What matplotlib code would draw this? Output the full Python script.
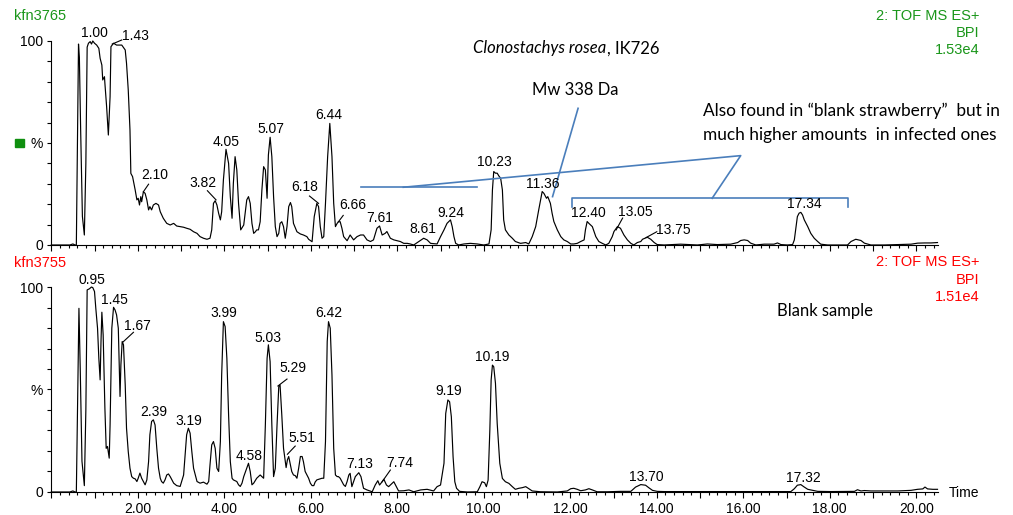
import matplotlib
matplotlib.use("Agg")
import matplotlib.pyplot as plt
from matplotlib.ticker import MultipleLocator, FixedLocator, FuncFormatter
from matplotlib.patches import Rectangle

plt.rcParams['font.family'] = ['Liberation Sans', 'DejaVu Sans']

GREEN = '#1a961a'
RED = '#ff0000'
BLUE = '#4a7ebb'
NOTE_FONT = ['Lato', 'DejaVu Sans']

# chromatogram kfn3765 (Clonostachys rosea), time in min, intensity in %
top_trace = [
    (0.0, 0), (0.43, 0), (0.50, 0.5), (0.55, 0), (0.58, 0), (0.63, 98.5), (0.65, 92), (0.68, 56),
    (0.72, 14), (0.765, 4.9), (0.80, 40), (0.82, 80), (0.83, 97), (0.86, 98.9), (0.90, 99.7),
    (0.93, 98.5), (0.96, 100), (1.00, 98.9), (1.05, 98), (1.10, 96.4), (1.13, 91.5), (1.17, 88.2),
    (1.19, 80.9), (1.23, 82.5), (1.24, 79.3), (1.28, 67.8), (1.32, 53.9), (1.36, 72.7), (1.38, 97.2),
    (1.44, 98.9), (1.51, 98), (1.63, 98), (1.71, 95.6), (1.74, 89.1), (1.78, 76.0), (1.82, 56.4),
    (1.84, 35.1), (1.88, 33.5), (1.94, 27.0), (1.98, 22.1), (2.01, 22.9), (2.04, 19.6), (2.07, 23.7),
    (2.09, 21.2), (2.13, 26.1), (2.17, 25.3), (2.21, 22.1), (2.25, 17.2), (2.28, 18.8), (2.32, 17.2),
    (2.36, 19.6), (2.42, 20.4), (2.48, 19.6), (2.52, 16.3), (2.59, 13.1), (2.67, 10.6), (2.75, 9.8),
    (2.83, 10.6), (2.90, 9.3), (2.98, 9.0), (3.06, 8.7), (3.13, 8.2), (3.21, 7.7), (3.29, 6.5),
    (3.37, 5.7), (3.44, 4.1), (3.52, 3.3), (3.60, 2.8), (3.67, 3.3), (3.71, 7.4), (3.75, 20.4),
    (3.79, 21.7), (3.83, 19.6), (3.87, 15.5), (3.91, 12.3), (3.94, 16.3), (3.98, 31.9), (4.04, 46.9),
    (4.10, 40.0), (4.14, 23.7), (4.18, 13.1), (4.21, 30.2), (4.25, 43.3), (4.29, 36.8), (4.33, 20.4),
    (4.38, 7.4), (4.45, 9.8), (4.52, 22.1), (4.56, 23.7), (4.60, 20.4), (4.64, 10.6), (4.68, 5.7),
    (4.72, 6.5), (4.75, 7.4), (4.79, 7.4), (4.83, 11.4), (4.87, 27.0), (4.91, 38.4), (4.95, 36.8),
    (4.99, 22.9), (5.02, 44.1), (5.06, 52.8), (5.10, 43.3), (5.14, 23.7), (5.18, 9.0), (5.22, 4.1),
    (5.26, 5.7), (5.29, 10.6), (5.33, 11.4), (5.37, 9.0), (5.41, 3.3), (5.45, 9.0), (5.49, 18.8),
    (5.53, 20.8), (5.56, 18.8), (5.60, 10.6), (5.68, 6.5), (5.76, 5.4), (5.83, 4.9), (5.91, 4.1),
    (5.95, 2.8), (6.03, 1.6), (6.08, 13.9), (6.14, 20.4), (6.18, 18.8), (6.22, 9.0), (6.26, 3.3),
    (6.30, 4.1), (6.34, 20.4), (6.39, 43.3), (6.44, 59.6), (6.49, 43.3), (6.53, 20.4), (6.57, 9.0),
    (6.61, 10.6), (6.64, 11.4), (6.68, 11.4), (6.72, 8.2), (6.76, 4.1), (6.84, 2.1), (6.91, 4.9),
    (6.99, 2.5), (7.07, 4.1), (7.15, 4.9), (7.22, 4.9), (7.30, 2.5), (7.38, 1.7), (7.45, 2.5),
    (7.53, 8.2), (7.59, 9.3), (7.65, 4.9), (7.72, 5.7), (7.76, 6.6), (7.84, 3.3), (7.92, 2.5),
    (8.00, 2.1), (8.07, 1.7), (8.15, 0.8), (8.23, 0.8), (8.30, 0.5), (8.38, 0), (8.50, 1.7),
    (8.61, 3.3), (8.69, 2.5), (8.77, 0.8), (8.92, 0.5), (9.00, 4.1), (9.08, 7.4), (9.15, 10.6),
    (9.23, 12.3), (9.27, 9.0), (9.31, 4.1), (9.35, 0.8), (9.42, 0), (9.54, 0.5), (9.69, 0.8),
    (9.85, 0.5), (10.00, 0), (10.12, 0.5), (10.17, 7.4), (10.20, 27.0), (10.23, 36.0), (10.27, 35.2),
    (10.31, 35.2), (10.35, 33.8), (10.39, 32.7), (10.43, 27.0), (10.46, 12.3), (10.50, 7.4),
    (10.58, 4.9), (10.66, 3.3), (10.73, 1.7), (10.85, 0.8), (10.97, 1.2), (11.04, 0.5), (11.12, 4.1),
    (11.20, 9.0), (11.27, 17.2), (11.35, 26.2), (11.39, 25.3), (11.43, 23.7), (11.45, 22.9),
    (11.48, 23.7), (11.51, 22.1), (11.54, 20.4), (11.58, 15.5), (11.62, 11.5), (11.70, 7.4),
    (11.78, 4.1), (11.85, 2.5), (11.93, 1.7), (12.01, 0.5), (12.08, 0.5), (12.16, 0.8), (12.24, 1.7),
    (12.32, 2.5), (12.35, 7.4), (12.39, 11.5), (12.43, 10.6), (12.51, 9.0), (12.59, 4.1),
    (12.66, 1.7), (12.74, 0.8), (12.82, 0), (12.89, 0.8), (12.97, 4.1), (13.01, 6.6), (13.09, 9.0),
    (13.16, 8.2), (13.24, 4.9), (13.32, 2.5), (13.40, 0.8), (13.47, 0), (13.55, 1.2), (13.63, 1.7),
    (13.67, 2.8), (13.78, 3.8), (13.86, 2.8), (13.94, 1.2), (14.01, 0.2), (14.17, 0), (14.55, 0.4),
    (14.94, 0), (15.17, 0.5), (15.40, 0.2), (15.71, 0.4), (15.87, 1.2), (15.94, 2.2), (16.02, 2.5),
    (16.10, 2.2), (16.17, 0.9), (16.29, 0), (16.48, 0.4), (16.71, 0.4), (16.79, 1.0), (16.87, 0.2),
    (17.02, 0), (17.14, 0.2), (17.18, 2.5), (17.22, 9.0), (17.25, 13.9), (17.29, 15.6), (17.33, 16.0),
    (17.37, 14.7), (17.41, 12.3), (17.49, 9.0), (17.56, 5.7), (17.64, 3.3), (17.72, 1.7),
    (17.79, 0.4), (17.95, 0), (18.18, 0), (18.41, 0), (18.49, 1.7), (18.60, 2.8), (18.72, 2.2),
    (18.80, 0.9), (18.95, 0), (19.26, 0), (19.57, 0.2), (19.88, 0.4), (20.03, 0.9), (20.19, 1.0),
    (20.34, 1.0), (20.49, 1.2),
]

# chromatogram kfn3755 (blank sample)
bottom_trace = [
    (0.0, 0), (0.43, 0), (0.50, 0.5), (0.55, 0), (0.58, 0), (0.64, 89.6), (0.67, 60), (0.71, 15),
    (0.765, 3.1), (0.80, 40), (0.83, 98.6), (0.88, 99.1), (0.93, 100), (0.96, 99.7), (1.00, 97.8),
    (1.03, 89.6), (1.07, 79.9), (1.10, 65.2), (1.13, 54.7), (1.15, 73.4), (1.17, 87.7), (1.20, 76.6),
    (1.24, 40.9), (1.27, 21.3), (1.30, 22.2), (1.34, 16.5), (1.36, 32.7), (1.40, 79.9), (1.44, 90.1),
    (1.475, 88.8), (1.51, 86.4), (1.55, 79.9), (1.59, 46.6), (1.61, 62.0), (1.64, 73.4), (1.67, 71.8),
    (1.71, 52.2), (1.74, 31.1), (1.78, 19.7), (1.82, 11.6), (1.86, 7.5), (1.90, 6.7), (1.94, 6.4),
    (1.98, 5.1), (2.01, 6.7), (2.05, 9.2), (2.09, 6.7), (2.13, 5.1), (2.17, 3.5), (2.21, 5.9),
    (2.25, 14.8), (2.28, 27.9), (2.32, 34.4), (2.36, 35.2), (2.40, 32.7), (2.44, 21.3), (2.48, 11.6),
    (2.52, 6.7), (2.55, 5.1), (2.59, 4.3), (2.63, 5.9), (2.67, 8.3), (2.71, 8.8), (2.75, 7.5),
    (2.79, 5.9), (2.83, 4.3), (2.90, 3.1), (2.98, 2.7), (3.06, 8.3), (3.10, 19.7), (3.13, 27.9),
    (3.17, 31.1), (3.21, 28.7), (3.25, 19.7), (3.29, 11.6), (3.37, 5.1), (3.44, 4.3), (3.52, 4.8),
    (3.60, 3.8), (3.64, 5.1), (3.67, 13.2), (3.71, 23.0), (3.75, 24.6), (3.79, 21.3), (3.83, 11.6),
    (3.87, 10.0), (3.91, 24.6), (3.94, 57.1), (3.98, 83.1), (4.02, 80.7), (4.06, 65.2), (4.10, 37.6),
    (4.14, 14.8), (4.18, 6.7), (4.21, 5.9), (4.29, 5.1), (4.33, 3.5), (4.37, 2.7), (4.41, 4.3),
    (4.45, 7.5), (4.52, 11.6), (4.56, 14.0), (4.60, 10.0), (4.64, 3.5), (4.68, 4.3), (4.75, 6.7),
    (4.83, 8.3), (4.87, 7.5), (4.91, 6.7), (4.95, 32.7), (4.99, 65.2), (5.02, 71.8), (5.06, 63.6),
    (5.10, 32.7), (5.14, 7.5), (5.18, 11.6), (5.22, 32.7), (5.26, 51.4), (5.29, 52.2), (5.33, 37.6),
    (5.37, 21.3), (5.41, 14.8), (5.43, 11.9), (5.46, 15.7), (5.49, 17.3), (5.53, 13.2), (5.56, 10.0),
    (5.60, 8.3), (5.64, 8.0), (5.68, 6.7), (5.72, 11.6), (5.76, 17.3), (5.80, 17.3), (5.83, 14.8),
    (5.87, 10.0), (5.91, 8.3), (5.95, 6.7), (5.99, 4.3), (6.03, 3.1), (6.07, 3.1), (6.10, 4.8),
    (6.14, 5.9), (6.22, 6.4), (6.26, 6.7), (6.30, 6.7), (6.34, 24.6), (6.38, 73.4), (6.41, 83.1),
    (6.45, 79.9), (6.49, 57.1), (6.53, 21.3), (6.57, 8.3), (6.61, 7.5), (6.64, 7.5), (6.68, 6.7),
    (6.72, 5.1), (6.76, 3.5), (6.80, 2.7), (6.84, 5.1), (6.88, 8.3), (6.91, 9.1), (6.95, 2.6),
    (7.03, 7.5), (7.11, 9.4), (7.16, 7.5), (7.22, 1.8), (7.30, 1.0), (7.42, 0.1), (7.49, 3.4),
    (7.55, 5.5), (7.59, 3.4), (7.65, 5.0), (7.69, 6.2), (7.75, 3.4), (7.80, 2.6), (7.88, 4.2),
    (7.92, 5.0), (7.98, 2.6), (8.03, 0.5), (8.15, 0.6), (8.27, 1.0), (8.38, 0.1), (8.54, 1.0),
    (8.69, 1.3), (8.84, 0.5), (8.92, 2.6), (9.00, 3.4), (9.08, 14.0), (9.12, 38.3), (9.17, 44.9),
    (9.21, 44.0), (9.25, 36.7), (9.29, 17.2), (9.33, 5.0), (9.37, 1.8), (9.44, 0.3), (9.62, 0),
    (9.85, 0.1), (9.91, 2.6), (9.96, 5.0), (10.02, 4.5), (10.06, 2.6), (10.10, 5.8), (10.14, 30.2),
    (10.17, 54.6), (10.20, 61.9), (10.23, 61.1), (10.27, 53.0), (10.31, 33.5), (10.37, 14.0),
    (10.43, 6.6), (10.50, 5.0), (10.58, 4.2), (10.66, 2.6), (10.73, 1.3), (10.81, 1.8), (10.89, 2.1),
    (10.97, 2.6), (11.04, 1.6), (11.12, 0.5), (11.31, 0.1), (11.70, 0), (11.93, 0.5), (12.01, 1.6),
    (12.08, 1.8), (12.16, 1.3), (12.24, 0.6), (12.35, 1.0), (12.43, 1.6), (12.51, 1.0), (12.62, 0.1),
    (12.86, 0.1), (13.16, 0.3), (13.40, 0.3), (13.51, 2.4), (13.63, 3.6), (13.74, 3.3), (13.82, 2.0),
    (13.90, 0.8), (14.01, 0.3), (14.17, 0.2), (15.0, 0.2), (16.0, 0.2), (17.10, 0.2), (17.18, 1.6),
    (17.25, 3.3), (17.33, 3.6), (17.41, 2.4), (17.49, 1.3), (17.60, 0.8), (17.72, 0.3), (18.03, 0.2),
    (18.57, 0.3), (18.64, 1.1), (18.72, 0.5), (18.80, 0.7), (18.95, 0.5), (19.26, 0.5), (19.57, 0.5),
    (19.88, 0.8), (20.03, 1.3), (20.15, 1.5), (20.20, 2.4), (20.26, 1.5), (20.38, 1.3), (20.49, 1.3),
]

# peak labels: text, label position (min, %)
top_labels = [
    ('1.00', 1.00, 103.8), ('1.43', 1.94, 102.5), ('2.10', 2.40, 34.3), ('3.82', 3.50, 30.2),
    ('4.05', 4.04, 50.6), ('5.07', 5.08, 56.9), ('6.18', 5.85, 28.6), ('6.44', 6.42, 63.7),
    ('6.66', 6.98, 19.6), ('7.61', 7.60, 13.1), ('8.61', 8.60, 7.8), ('9.24', 9.24, 15.8),
    ('10.23', 10.25, 40.8), ('11.36', 11.37, 29.8), ('12.40', 12.42, 15.5), ('13.05', 13.50, 16.3),
    ('13.75', 14.39, 7.4), ('17.34', 17.42, 20.1),
]
top_leaders = [
    ((1.41, 98.5), (1.63, 100.5)), ((2.13, 26.1), (2.25, 29.8)), ((3.81, 22.1), (3.61, 26.6)),
    ((6.18, 20.4), (5.97, 24.0)), ((6.64, 11.4), (6.75, 14.5)), ((13.06, 7.4), (13.21, 13.2)),
    ((13.75, 3.6), (14.00, 6.5)),
]
bottom_labels = [
    ('0.95', 0.95, 103.4), ('1.45', 1.46, 93.7), ('1.67', 1.99, 81.0), ('2.39', 2.37, 38.9),
    ('3.19', 3.18, 34.8), ('3.99', 3.99, 87.2), ('4.58', 4.57, 17.6), ('5.03', 5.02, 75.3),
    ('5.29', 5.59, 60.3), ('5.51', 5.80, 26.2), ('6.42', 6.42, 87.2), ('7.13', 7.13, 13.7),
    ('7.74', 8.05, 14.3), ('9.19', 9.19, 49.4), ('10.19', 10.20, 65.7), ('13.70', 13.75, 7.5),
    ('17.32', 17.38, 7.0),
]
bottom_leaders = [
    ((1.65, 73.0), (1.90, 77.9)), ((5.24, 51.7), (5.45, 55.1)), ((5.46, 18.4), (5.64, 22.4)),
    ((7.65, 5.0), (7.84, 10.7)),
]


def style_axis(ax, show_labels):
    ax.set_xlim(0, 20.5)
    ax.set_ylim(0, 100)
    ax.patch.set_visible(False)
    for s in ['top', 'right']:
        ax.spines[s].set_visible(False)
    for s in ['left', 'bottom']:
        ax.spines[s].set_linewidth(0.8)
    ax.xaxis.set_major_locator(MultipleLocator(1))
    ax.xaxis.set_minor_locator(MultipleLocator(0.2))
    ax.xaxis.set_major_formatter(
        FuncFormatter(lambda v, p: f'{v:.2f}' if v > 0 and round(v) % 2 == 0 else ''))
    ax.yaxis.set_major_locator(FixedLocator([0, 50, 100]))
    ax.yaxis.set_major_formatter(
        FuncFormatter(lambda v, p: {0: '0', 50: '%', 100: '100'}[int(round(v))]))
    ax.yaxis.set_minor_locator(MultipleLocator(10))
    ax.tick_params(axis='x', which='major', direction='out', length=4.3, width=0.8,
                   labelsize=10, pad=3, labelbottom=show_labels)
    ax.tick_params(axis='x', which='minor', direction='out', length=2.4, width=0.8)
    ax.tick_params(axis='y', which='both', direction='out', length=3.1, width=0.8,
                   labelsize=10, pad=2.6)


def draw_trace(ax, trace, labels, leaders):
    t, pct = zip(*trace)
    ax.plot(t, pct, color='black', lw=0.85, clip_on=False)
    for text, x, y in labels:
        ax.text(x, y, text, ha='center', va='center', fontsize=10, clip_on=False)
    for (x0, y0), (x1, y1) in leaders:
        ax.plot([x0, x1], [y0, y1], color='black', lw=0.8, clip_on=False)


fig = plt.figure(figsize=(10.13, 5.15), dpi=100)
ax_top = fig.add_axes([0.0506, 0.5243, 0.8753, 0.3961])
ax_bot = fig.add_axes([0.0506, 0.0447, 0.8753, 0.3980])

style_axis(ax_top, False)
style_axis(ax_bot, True)
draw_trace(ax_top, top_trace, top_labels, top_leaders)
draw_trace(ax_bot, bottom_trace, bottom_labels, bottom_leaders)

# headers
fig.text(14 / 1013, 1 - 16 / 515, 'kfn3765', color=GREEN, fontsize=10.5, ha='left', va='center')
fig.text(14 / 1013, 1 - 263 / 515, 'kfn3755', color=RED, fontsize=10.5, ha='left', va='center')
for k, line in enumerate(['2: TOF MS ES+', 'BPI', '1.53e4']):
    fig.text(979 / 1013, 1 - (16 + 17 * k) / 515, line, color=GREEN, fontsize=10.5,
             ha='right', va='center')
for k, line in enumerate(['2: TOF MS ES+', 'BPI', '1.51e4']):
    fig.text(979 / 1013, 1 - (262 + 17.5 * k) / 515, line, color=RED, fontsize=10.5,
             ha='right', va='center')
fig.add_artist(Rectangle((15 / 1013, 1 - 147 / 515), 9 / 1013, 8 / 515, color='#0f8f0f',
                         transform=fig.transFigure))
fig.text(949 / 1013, 1 - 493 / 515, 'Time', fontsize=10, ha='left', va='center')

# notes on the upper trace
ax_top.text(12.84, 96.4, 'Clonostachys rosea', style='italic', family=NOTE_FONT, fontsize=12,
            ha='right', va='center')
ax_top.text(12.84, 96.4, ', IK726', family=NOTE_FONT, fontsize=12, ha='left', va='center')
ax_top.text(12.12, 76.0, 'Mw 338 Da', family=NOTE_FONT, fontsize=12, ha='center', va='center')
ax_top.text(15.06, 65.7, 'Also found in \u201cblank strawberry\u201d  but in', family=NOTE_FONT,
            fontsize=12.4, ha='left', va='center')
ax_top.text(15.06, 53.9, 'much higher amounts  in infected ones', family=NOTE_FONT,
            fontsize=12.4, ha='left', va='center')
ax_bot.text(17.9, 88.3, 'Blank sample', family=NOTE_FONT, fontsize=12, ha='center', va='center')

note_lines = [
    [(7.16, 28.6), (9.85, 28.6)],
    [(8.14, 28.3), (15.94, 43.8), (15.28, 22.9)],
    [(12.05, 18.4), (12.05, 22.9), (18.42, 22.9), (18.42, 18.4)],
    [(12.18, 67.0), (11.59, 23.7)],
]
for seg in note_lines:
    xs, ys = zip(*seg)
    ax_top.plot(xs, ys, color=BLUE, lw=1.2, clip_on=False)

fig.savefig('out.png', dpi=100)
